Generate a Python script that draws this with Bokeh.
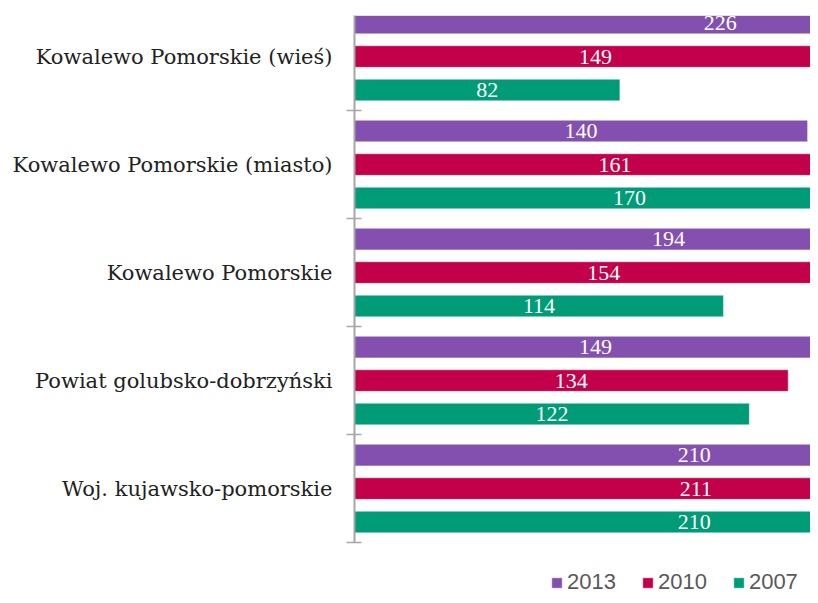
from bokeh.plotting import figure
from bokeh.models import Range1d, FixedTicker, Legend, LegendItem, ColumnDataSource
from bokeh.core.properties import value
from bokeh.embed import file_html
from bokeh.resources import INLINE

categories = ["Woj. kujawsko-pomorskie", "Powiat golubsko-dobrzyński", "Kowalewo Pomorskie",
              "Kowalewo Pomorskie (miasto)", "Kowalewo Pomorskie (wieś)"]
series = ["2013", "2010", "2007"]
v2013 = [210, 149, 194, 140, 226]
v2010 = [211, 134, 154, 161, 149]
v2007 = [210, 122, 114, 170, 82]
colors = ["#8350AF", "#C3004A", "#009B77"]

offsets = [0.81, 0.5, 0.19]
bar_h = 0.2
y_top = 4.88

p = figure(width=810, height=595, output_backend="svg", toolbar_location=None,
           x_range=Range1d(0, 140.9), y_range=Range1d(-0.49, y_top),
           x_axis_location=None, min_border_left=354, min_border_right=0,
           min_border_top=15, min_border_bottom=0)
p.outline_line_color = None
p.grid.visible = False

renderers = []
for vals, col, off, name in zip([v2013, v2010, v2007], colors, offsets, series):
    src = ColumnDataSource(dict(
        y=[i + off for i in range(len(categories))],
        v=vals,
        mid=[v / 2 for v in vals],
        lab=[str(v) for v in vals],
    ))
    r = p.hbar(y="y", left=0, right="v", height=bar_h, source=src,
               fill_color=col, line_color="white", line_alpha=0.45, line_width=1)
    p.text(x="mid", y="y", text="lab", source=src, text_color="white",
           text_align="center", text_baseline="middle",
           text_font=value("Liberation Serif"), text_font_size="22px")
    renderers.append((name, r))

ax = p.yaxis[0]
ax.bounds = (0, y_top)
ax.ticker = FixedTicker(ticks=[i + 0.5 for i in range(len(categories))],
                        minor_ticks=list(range(len(categories))))
ax.major_label_overrides = {i + 0.5: c for i, c in enumerate(categories)}
ax.major_tick_in = 0
ax.major_tick_out = 0
ax.minor_tick_in = 7
ax.minor_tick_out = 8
ax.minor_tick_line_color = "#a6a6a6"
ax.minor_tick_line_width = 1.5
ax.axis_line_color = "#a6a6a6"
ax.axis_line_width = 2
ax.major_label_standoff = 14
ax.major_label_text_font = "DejaVu Serif"
ax.major_label_text_font_size = "21px"
ax.major_label_text_color = "#222222"

legend = Legend(items=[LegendItem(label=n, renderers=[r]) for n, r in renderers],
                orientation="horizontal", location=(196, 0),
                glyph_width=13, glyph_height=13, label_standoff=4, spacing=25,
                padding=0, margin=0, border_line_color=None, background_fill_alpha=0,
                label_text_font="Liberation Sans", label_text_font_size="22px",
                label_text_color="#595959")
p.add_layout(legend, "center")

open("out.html", "w").write(file_html(p, INLINE))
